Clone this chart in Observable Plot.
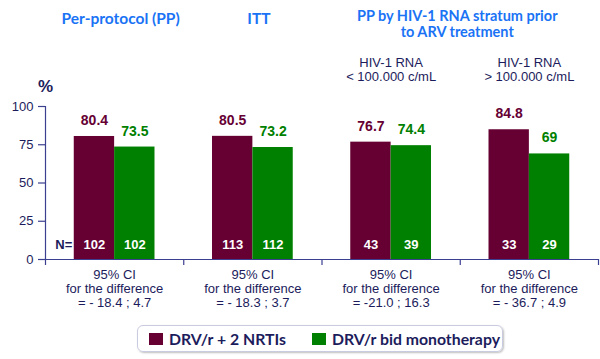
<!DOCTYPE html>
<html><head><meta charset="utf-8">
<script src="https://cdn.jsdelivr.net/npm/d3@7"></script>
<script src="https://cdn.jsdelivr.net/npm/@observablehq/plot@0.6"></script>
<style>
body{margin:0;background:#fff;width:600px;height:359px;position:relative;overflow:hidden}
#chart{position:absolute;left:0;top:0}
#legend{position:absolute;left:137px;top:325px;width:364px;height:25px;border:1px solid #c9cbe0;border-radius:6px;box-shadow:1px 1px 2px rgba(0,0,0,0.25);display:flex;align-items:center;font:700 15.8px Lato, sans-serif;color:#1c1c5c;box-sizing:content-box;white-space:nowrap}
.item{display:flex;align-items:center;flex:none}
.sw{width:14px;height:12px;margin-right:6px;flex:none}
</style></head>
<body><div id="chart"></div><div id="legend"></div>
<script>
// ---- data ----
const groups = ["Per-protocol (PP)", "ITT", "PP HIV-1 RNA < 100.000 c/mL", "PP HIV-1 RNA > 100.000 c/mL"];
const seriesNames = ["DRV/r + 2 NRTIs", "DRV/r bid monotherapy"];
const drvNrti = [80.4, 80.5, 76.7, 84.8];
const drvMono = [73.5, 73.2, 74.4, 69];
const nNrti = [102, 113, 43, 33];
const nMono = [102, 112, 39, 29];
const ciLines = ["= - 18.4 ; 4.7", "= - 18.3 ; 3.7", "= -21.0 ; 16.3", "= - 36.7 ; 4.9"];
const groupTitles = ["Per-protocol (PP)", "ITT"];
const stratumTitle = "PP by HIV-1 RNA stratum prior\nto ARV treatment";
const stratumLabels = ["HIV-1 RNA\n< 100.000 c/mL", "HIV-1 RNA\n> 100.000 c/mL"];
const yTicks = [0, 25, 50, 75, 100];
const colors = ["#660033", "#008000"];

// ---- layout ----
const W = 0.292; // bar width as a fraction of a group
const navy = "#1c1c5c";
const axisColor = "#3b3f8f";
const blue = "#1a73f5";

const rows = groups.flatMap((g, i) => [
  {gi: i, s: 0, v: drvNrti[i], n: nNrti[i]},
  {gi: i, s: 1, v: drvMono[i], n: nMono[i]}
]);
const ci = groups.map((g, i) => ({gi: i, text: "95% CI\nfor the difference\n" + ciLines[i]}));
const titles = groupTitles.map((t, i) => ({gi: i, t}));
const strat = stratumLabels.map((t, i) => ({gi: i + 2, t}));

const chart = Plot.plot({
  width: 600, height: 320,
  marginLeft: 45, marginRight: 2, marginTop: 106, marginBottom: 61,
  style: {fontFamily: "'Liberation Sans', Arial, sans-serif", fontSize: "13px", background: "white"},
  x: {domain: [0, groups.length], axis: null},
  y: {domain: [0, 100], axis: null},
  color: {domain: [0, 1], range: colors},
  marks: [
    Plot.rectY(rows, {x1: d => d.gi + 0.5 - (1 - d.s) * W, x2: d => d.gi + 0.5 + d.s * W, y1: 0, y2: "v", fill: "s"}),
    Plot.ruleY([0], {stroke: axisColor, strokeWidth: 1.2}),
    Plot.ruleX([0], {y1: 0, y2: 100, stroke: axisColor, strokeWidth: 1.2}),
    Plot.ruleX(d3.range(groups.length + 1), {y1: 0, y2: 0, insetBottom: -6, stroke: axisColor, strokeWidth: 1.2}),
    Plot.ruleY(yTicks, {x1: 0, x2: 0, insetLeft: -7, stroke: axisColor, strokeWidth: 1.2}),
    Plot.text(yTicks, {x: 0, y: d => d, dx: -12, textAnchor: "end", fill: navy, fontSize: 13}),
    Plot.text(["%"], {x: 0, y: 100, dy: -20, fontSize: 17, fontWeight: "bold", fill: navy}),
    // value labels
    Plot.text(rows, {x: d => d.gi + 0.5 + (d.s - 0.5) * W, y: "v", dy: -16, text: d => String(d.v), fill: "s", fontSize: 14, fontWeight: "bold"}),
    // N labels
    Plot.text(rows, {x: d => d.gi + 0.5 + (d.s - 0.5) * W, y: 0, dy: -15, text: d => String(d.n), fill: "white", fontSize: 13, fontWeight: "bold"}),
    Plot.text(rows.filter(d => d.gi === 0 && d.s === 0), {x: d => d.gi + 0.5 - W, y: 0, dx: -2, dy: -15, text: () => "N=", textAnchor: "end", fill: navy, fontSize: 13, fontWeight: "bold"}),
    // CI text
    Plot.text(ci, {x: d => d.gi + 0.5, y: 0, dy: 29, text: "text", fill: navy, fontSize: 13, lineHeight: 14 / 13}),
    // headers
    Plot.text(titles, {x: d => d.gi + 0.5, y: 100, dx: 6, dy: -87, text: "t", fill: blue, fontSize: 15.5, fontWeight: "bold", fontFamily: "Lato, sans-serif"}),
    Plot.text([stratumTitle], {x: 3, y: 100, dx: -3, dy: -83, fill: blue, fontSize: 14.5, fontWeight: "bold", fontFamily: "Lato, sans-serif", lineHeight: 1.15}),
    Plot.text(strat, {x: d => d.gi + 0.5, y: 100, dy: -37, text: "t", fill: navy, fontSize: 13, lineHeight: 14 / 13})
  ]
});
document.getElementById("chart").append(chart);

const legend = document.getElementById("legend");
seriesNames.forEach((name, i) => {
  const item = document.createElement("div");
  item.className = "item";
  item.style.marginLeft = i === 0 ? "11px" : "26px";
  const sw = document.createElement("span");
  sw.className = "sw";
  sw.style.background = colors[i];
  const label = document.createElement("span");
  label.textContent = name;
  item.append(sw, label);
  legend.append(item);
});
</script>
</body></html>
